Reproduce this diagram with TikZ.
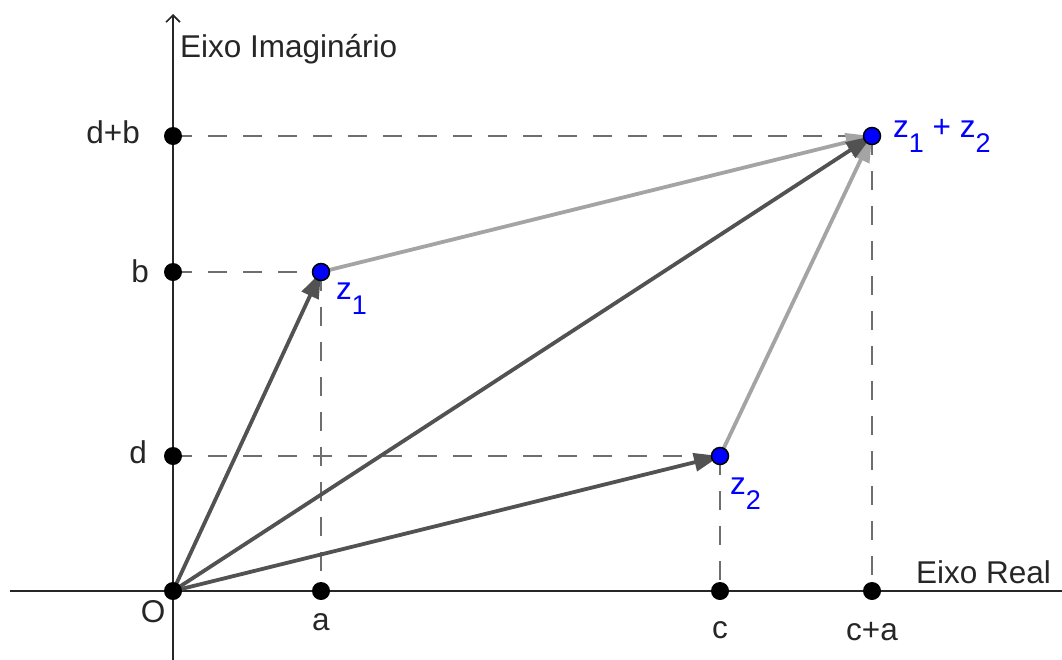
\documentclass[tikz,border=0pt]{standalone}
\usepackage{fontspec}
\setmainfont{Liberation Sans}
\usetikzlibrary{arrows.meta}
\definecolor{darkvec}{HTML}{525252}
\definecolor{lightvec}{HTML}{A4A4A4}
\definecolor{guidegray}{HTML}{6E6E6E}
\definecolor{ptblue}{HTML}{0000FF}
\newcommand\zsub[1]{\raisebox{-15pt}{\fontsize{27}{30}\selectfont #1}}
\begin{document}
\begin{tikzpicture}[x=1pt,y=-1pt,
  font=\fontsize{31.5}{34}\selectfont,
  axisline/.style={draw=black!85, line width=1.9pt},
  guide/.style={draw=guidegray, line width=2.6pt, dash pattern=on 19pt off 16pt},
  vec/.style={line width=3.8pt, -{Triangle[length=26pt,width=18pt]}},
  bdot/.style={circle, fill=black, inner sep=0pt, minimum size=18pt},
  bluedot/.style={circle, fill=ptblue, draw=black, line width=1.5pt, inner sep=0pt, minimum size=17pt},
  lbl/.style={inner sep=0pt, text=black!85},
  blbl/.style={inner sep=0pt, text=ptblue}]
\useasboundingbox (0,0) rectangle (1062,659);
% axes
\coordinate (xl) at (10,591);
\coordinate (xr) at (1066,591);
\coordinate (yb) at (173,662);
\coordinate (yt) at (173,14);
\draw[axisline] (xl) -- (xr);
\draw[axisline, -{Straight Barb[length=7pt,width=14pt,line width=1.6pt]}] (yb) -- (yt);
\node[lbl, anchor=base west] (ylab) at (180,57) {Eixo Imaginário};
\node[lbl, anchor=base west] (xlab) at (916,583) {Eixo Real};
% points (coordinates)
\coordinate (Oc) at (173,591);
\coordinate (ac) at (321,591);
\coordinate (cc) at (720,591);
\coordinate (cac) at (872,591);
\coordinate (dc) at (173,456);
\coordinate (bc) at (173,272);
\coordinate (dbc) at (173,136);
\coordinate (z1c) at (321,272);
\coordinate (z2c) at (720,456);
\coordinate (sc) at (872,136);
% guides
\draw[guide] (dbc) -- (sc);
\draw[guide] (bc) -- (z1c);
\draw[guide] (dc) -- (z2c);
\draw[guide] (z1c) -- (ac);
\draw[guide] (z2c) -- (cc);
\draw[guide] (sc) -- (cac);
% vectors
\draw[vec, lightvec] (z1c) -- (sc);
\draw[vec, lightvec] (z2c) -- (sc);
\draw[vec, darkvec] (Oc) -- (z1c);
\draw[vec, darkvec] (Oc) -- (z2c);
\draw[vec, darkvec] (Oc) -- (sc);
% dots
\node[bdot] (O) at (Oc) {};
\node[bdot] (a) at (ac) {};
\node[bdot] (c) at (cc) {};
\node[bdot] (ca) at (cac) {};
\node[bdot] (d) at (dc) {};
\node[bdot] (b) at (bc) {};
\node[bdot] (db) at (dbc) {};
\node[bluedot] (z1) at (z1c) {};
\node[bluedot] (z2) at (z2c) {};
\node[bluedot] (s) at (sc) {};
% labels
\node[lbl, anchor=base] (Olab) at (153,622) {O};
\node[lbl, anchor=base] (alab) at (321,630) {a};
\node[lbl, anchor=base] (clab) at (720,638) {c};
\node[lbl, anchor=base] (calab) at (872,640) {c+a};
\node[lbl, anchor=base east] (dlab) at (147,463) {d};
\node[lbl, anchor=base east] (blab) at (149,282) {b};
\node[lbl, anchor=base east] (dblab) at (140,143) {d+b};
\node[blbl, anchor=base west] (z1lab) at (336,299) {z\zsub{1}};
\node[blbl, anchor=base west] (z2lab) at (730,494) {z\zsub{2}};
\node[blbl, anchor=base west] (slab) at (893,137) {z\zsub{1} + z\zsub{2}};
\end{tikzpicture}
\end{document}
